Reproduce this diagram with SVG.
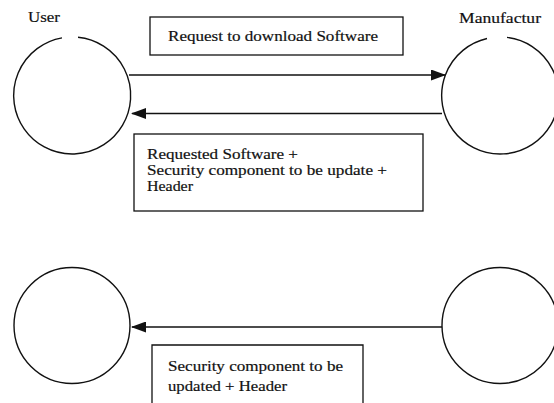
<svg xmlns="http://www.w3.org/2000/svg" width="554" height="403" viewBox="0 0 554 403">
  <style>
    .node { fill: none; stroke: #111; stroke-width: 1.4; }
    .box { fill: #fff; stroke: #111; stroke-width: 1.3; }
    .edge { fill: none; stroke: #111; stroke-width: 1.3; }
    text { font-family: "Liberation Serif", "Times New Roman", serif; font-size: 15.5px; fill: #111; stroke: #111; stroke-width: 0.2; }
  </style>
  <defs>
    <marker id="arrow" viewBox="0 0 15 11" refX="14" refY="5.5" markerWidth="15" markerHeight="11" markerUnits="userSpaceOnUse" orient="auto">
      <path d="M0,0 L15,5.5 L0,11 Z" fill="#111"/>
    </marker>
  </defs>
  <rect width="554" height="403" fill="#fff"/>

  <!-- upper exchange -->
  <g id="user-top">
    <path class="node" d="M 78 37.3 A 58.5 58.5 0 1 1 62 37.9"/>
    <text x="28" y="22" textLength="32" lengthAdjust="spacingAndGlyphs">User</text>
  </g>
  <g id="manufacturer-top">
    <path class="node" d="M 507 37.4 A 58.5 58.5 0 1 1 487 38.5"/>
    <text x="459" y="23" textLength="82" lengthAdjust="spacingAndGlyphs">Manufactur</text>
  </g>

  <!-- lower exchange -->
  <g id="user-bottom">
    <circle class="node" cx="72" cy="325.5" r="58"/>
  </g>
  <g id="manufacturer-bottom">
    <circle class="node" cx="500" cy="325.5" r="58"/>
  </g>

  <g id="connectors">
    <line class="edge" x1="129" y1="75" x2="445" y2="75" marker-end="url(#arrow)"/>
    <line class="edge" x1="442" y1="113.5" x2="132" y2="113.5" marker-end="url(#arrow)"/>
    <line class="edge" x1="442" y1="327" x2="132" y2="327" marker-end="url(#arrow)"/>
  </g>

  <g id="label-request">
    <rect class="box" x="150" y="17" width="253" height="38"/>
    <text x="168" y="41" textLength="210" lengthAdjust="spacingAndGlyphs">Request to download Software</text>
  </g>
  <g id="label-response">
    <rect class="box" x="134" y="134" width="289" height="77"/>
    <text x="147" y="159" textLength="151" lengthAdjust="spacingAndGlyphs">Requested Software +</text>
    <text x="147" y="175" textLength="240" lengthAdjust="spacingAndGlyphs">Security component to be update +</text>
    <text x="147" y="191" textLength="46" lengthAdjust="spacingAndGlyphs">Header</text>
  </g>
  <g id="label-update">
    <path class="box" d="M 152 404 V 345 H 363 V 404"/>
    <text x="168" y="371" textLength="175" lengthAdjust="spacingAndGlyphs">Security component to be</text>
    <text x="168" y="391" textLength="119" lengthAdjust="spacingAndGlyphs">updated + Header</text>
  </g>
</svg>
